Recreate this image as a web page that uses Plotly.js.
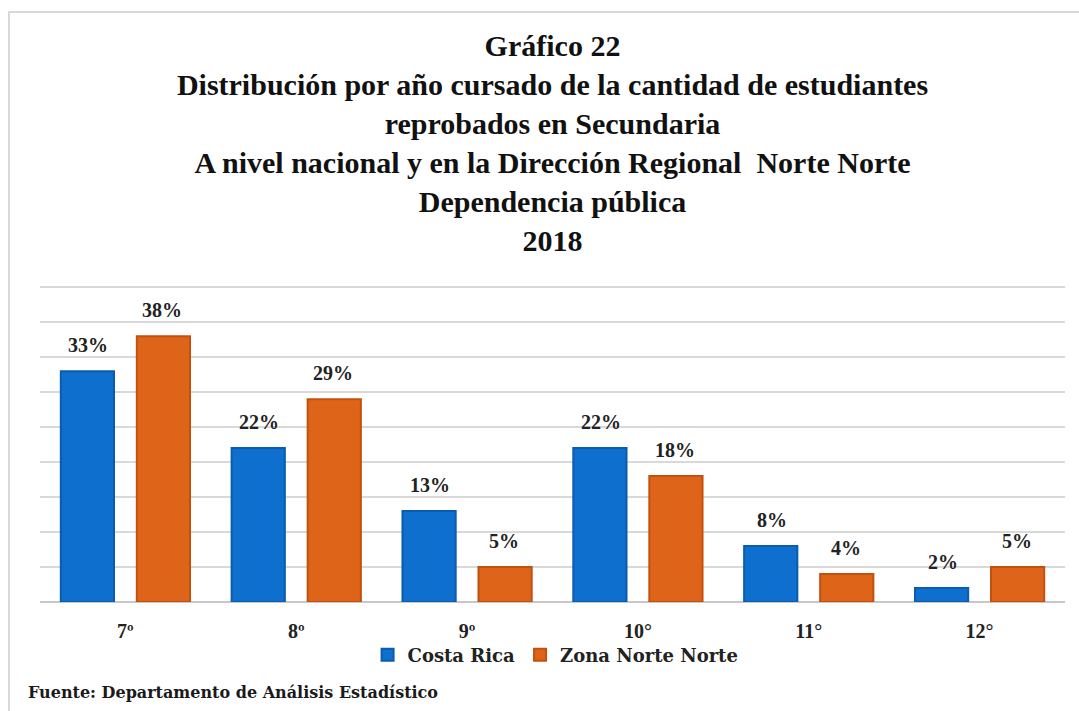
<!DOCTYPE html>
<html>
<head>
<meta charset="utf-8">
<script src="https://cdn.plot.ly/plotly-3.0.1.min.js"></script>
<style>
  html, body { margin: 0; padding: 0; background: #ffffff; }
  #chart { position: absolute; left: 0; top: 0; width: 1079px; height: 711px; }
  #frame { position: absolute; left: 8px; top: 11px; right: 0; bottom: 0;
           border-top: 2px solid #d9d9d9; border-left: 2px solid #d9d9d9; pointer-events: none; }
</style>
</head>
<body>
<div id="chart"></div>
<div id="frame"></div>
<script>
// ---- data ----
const categories = ["7º", "8º", "9º", "10°", "11°", "12°"];
const seriesNames = ["Costa Rica", "Zona Norte Norte"];
const costaRica = [33, 22, 13, 22, 8, 2];
const zonaNorte = [38, 29, 5, 18, 4, 5];
const titleLines = [
  "Gráfico 22",
  "Distribución por año cursado de la cantidad de estudiantes",
  "reprobados en Secundaria",
  "A nivel nacional y en la Dirección Regional  Norte Norte",
  "Dependencia pública",
  "2018"
];
const sourceText = "Fuente: Departamento de Análisis Estadístico";

// ---- styles ----
const blue = "#0f6fcf", blueEdge = "#0a5cae";
const orange = "#dd6419", orangeEdge = "#c2510f";
const serif = "Liberation Serif, Times New Roman, serif";
const wideSerif = "DejaVu Serif, serif";

const traces = [
  { type: "bar", name: seriesNames[0], x: categories, y: costaRica,
    marker: { color: blue, line: { color: blueEdge, width: 2 } }, hoverinfo: "none" },
  { type: "bar", name: seriesNames[1], x: categories, y: zonaNorte,
    marker: { color: orange, line: { color: orangeEdge, width: 2 } }, hoverinfo: "none" }
];

// value labels placed through the data scales
const annotations = [];
[costaRica, zonaNorte].forEach((vals, s) => {
  vals.forEach((v, i) => {
    annotations.push({
      x: categories[i], y: v, xref: "x", yref: "y",
      text: v + "%", showarrow: false,
      xshift: s === 0 ? -37 : 37, yshift: 13, yanchor: "bottom",
      font: { family: serif, size: 20, color: "#222222", weight: "bold" }
    });
  });
});
annotations.push({
  xref: "paper", yref: "paper", x: -0.014, y: -0.283, xanchor: "left", yanchor: "middle",
  text: "<b>" + sourceText + "</b>", showarrow: false,
  font: { family: wideSerif, size: 16, color: "#1a1a1a" }
});

const layout = {
  width: 1079, height: 711,
  margin: { l: 40, r: 14, t: 283, b: 109 },
  paper_bgcolor: "rgba(0,0,0,0)", plot_bgcolor: "rgba(0,0,0,0)",
  title: {
    text: titleLines.map(t => "<b>" + t + "</b>").join("<br>"),
    x: 0.5, xanchor: "center", xref: "paper",
    y: 1 - 56 / 711, yanchor: "top", yref: "container",
    font: { family: serif, size: 30, color: "#111111" }
  },
  bargap: 0.11, bargroupgap: 0.30,
  xaxis: {
    type: "category", showgrid: false, showline: false, zeroline: false,
    ticks: "", ticklabelstandoff: 15,
    tickfont: { family: serif, size: 20, color: "#222222", weight: "bold" }
  },
  yaxis: {
    range: [0, 45.6], dtick: 5, showticklabels: false, ticks: "",
    showgrid: true, gridcolor: "#d9d9d9", gridwidth: 2,
    zeroline: true, zerolinecolor: "#c8c8c8", zerolinewidth: 2, showline: false
  },
  showlegend: true,
  legend: {
    orientation: "h", x: 0.503, xanchor: "center", y: -0.166, yanchor: "middle",
    font: { family: wideSerif, size: 18, color: "#222222", weight: "bold" },
    itemwidth: 30, tracegroupgap: 0, bgcolor: "rgba(0,0,0,0)"
  },
  annotations: annotations
};

Plotly.newPlot("chart", traces, layout, { staticPlot: true, displayModeBar: false });
</script>
</body>
</html>
